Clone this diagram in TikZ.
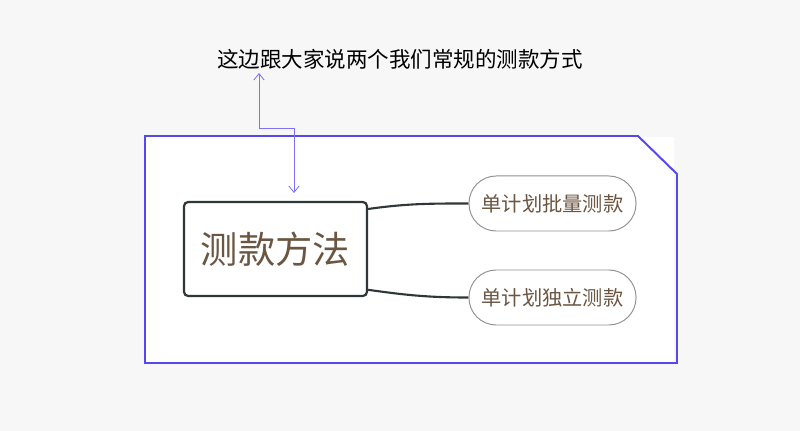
\documentclass[tikz,border=0pt]{standalone}
\usepackage{fontspec}
\setmainfont{Noto Sans CJK SC}
\usetikzlibrary{arrows.meta}
\definecolor{bgcol}{HTML}{F7F7F7}
\definecolor{framecol}{HTML}{5548F0}
\definecolor{notecol}{HTML}{7D72F4}
\definecolor{textcol}{HTML}{6B5642}
\definecolor{linecol}{HTML}{2F3838}
\tikzset{
  topic/.style={draw=linecol, line width=1.6pt, rounded corners=3pt, fill=white,
    minimum width=4.575cm, minimum height=2.35cm, text=textcol,
    font=\fontsize{26.5}{30}\selectfont},
  sub/.style={draw=gray!85, line width=0.7pt, rounded corners=0.68cm, fill=white,
    minimum width=4.175cm, minimum height=1.375cm, text=textcol,
    font=\fontsize{14.4}{17}\selectfont},
  branch/.style={draw=linecol, line width=1.5pt},
}
\begin{document}
\begin{tikzpicture}[x=0.025cm, y=-0.025cm]
      \fill[bgcol] (0,0) rectangle (800,431);
      \useasboundingbox (0,0) rectangle (800,431);
      % frame
      \fill[white] (146,137) rectangle (674,362);
      \draw[framecol, line width=1.4pt]
        (145,136) -- (638,136) -- (677,174) -- (677,363) -- (145,363) -- cycle;
      \draw
        (400,59) node (note){\fontsize{15.3}{18}\selectfont 这边跟大家说两个我们常规的测款方式}
        (275.5,249) node[topic] (main){测款方法}
        (552.5,203.5) node[sub] (b1){单计划批量测款}
        (552.5,297.5) node[sub] (b2){单计划独立测款};
      \coordinate (tipA) at (259,73);
      \coordinate (tipB) at (294,193);
      \begin{scope}[branch]
        \draw ([yshift=1cm]main.east) to[out=8, in=180] (b1.west);
        \draw ([yshift=-1.02cm]main.east) to[out=-8, in=180] (b2.west);
      \end{scope}
      \draw[notecol, line width=0.6pt, {Straight Barb[length=1.6mm,width=2.6mm]}-{Straight Barb[length=1.6mm,width=2.6mm]}]
        (tipA) -- ++(0,55) -| (tipB);
    \end{tikzpicture}
\end{document}
